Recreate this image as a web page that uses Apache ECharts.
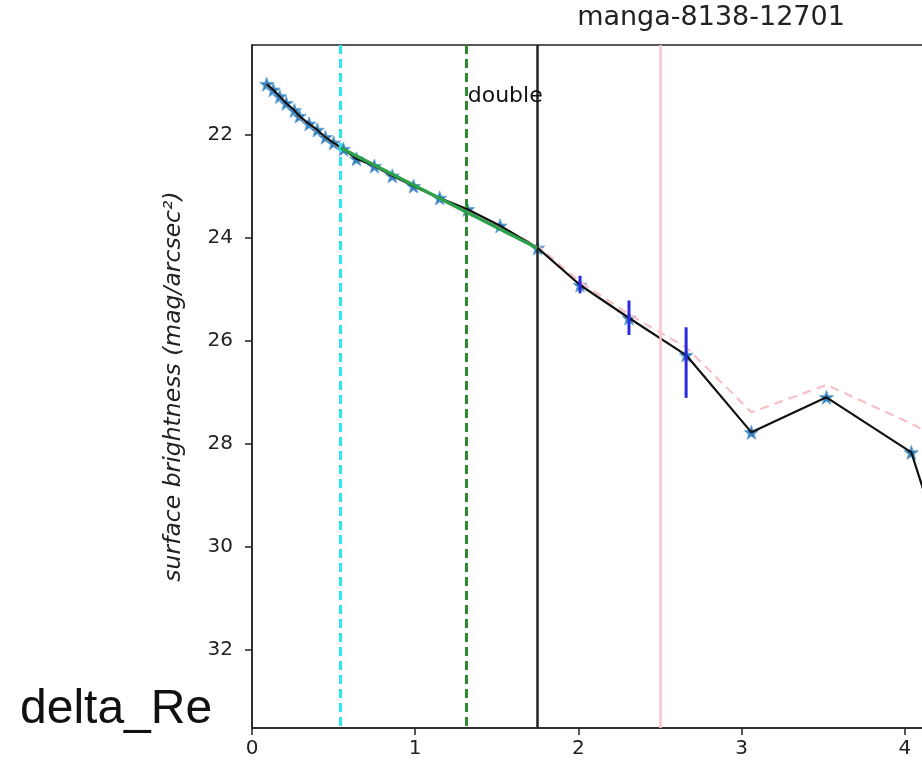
<!DOCTYPE html>
<html>
<head>
<meta charset="utf-8">
<script src="https://cdn.jsdelivr.net/npm/echarts@6/dist/echarts.min.js"></script>
<style>
html,body{margin:0;padding:0;background:#fff;}
#chart{width:922px;height:766px;}
</style>
</head>
<body>
<div id="chart"></div>
<script>
// ---- data ----
var titleText = 'manga-8138-12701';
var yAxisName = 'surface brightness (mag/arcsec\u00B2)';
var sideLabel = 'delta_Re';
var markerText = 'double';

var xTicks = [0, 1, 2, 3, 4, 5];
var yTicks = [22, 24, 26, 28, 30, 32];

var radius = [0.09, 0.13, 0.17, 0.21, 0.26, 0.29, 0.35, 0.40, 0.45, 0.50, 0.56,
              0.64, 0.75, 0.86, 0.99, 1.15, 1.32, 1.52, 1.75,
              2.01, 2.31, 2.66, 3.06, 3.52, 4.04, 4.45];
var sb     = [21.01, 21.12, 21.25, 21.38, 21.52, 21.63, 21.78, 21.90, 22.04, 22.15, 22.27,
              22.46, 22.60, 22.79, 22.99, 23.22, 23.44, 23.76, 24.19,
              24.91, 25.55, 26.27, 27.77, 27.09, 28.16, 32.20];
var errUp   = [0,0,0,0,0,0,0,0,0,0,0, 0,0,0,0,0,0,0,0, 0.18, 0.34, 0.54, 0, 0, 0, 0];
var errDown = [0,0,0,0,0,0,0,0,0,0,0, 0,0,0,0,0,0,0,0, 0.16, 0.33, 0.83, 0, 0, 0, 0];

var model  = [21.01, 21.12, 21.25, 21.38, 21.52, 21.64, 21.78, 21.91, 22.04, 22.16, 22.27,
              22.43, 22.60, 22.78, 22.99, 23.24, 23.48, 23.78, 24.15,
              24.85, 25.48, 26.12, 27.38, 26.85, 27.60, 28.30];

var fitX = [0.544, 1.747];
var fitY = [22.25, 24.19];

var vCyan = 0.544, vGreen = 1.307, vBlack = 1.747, vPink = 2.5;
var textPos = [1.322, 21.24];

var xMin = 0, xMax = 5.625, yMin = 20.25, yMax = 33.51;

// ---- build ----
function zip(a, b){ return a.map(function(v,i){ return [v, b[i]]; }); }
var errData = radius.map(function(r,i){ return [r, sb[i] - errUp[i], sb[i] + errDown[i]]; })
                    .filter(function(d,i){ return errUp[i] > 0 || errDown[i] > 0; });

var starPath = 'path://M0,-10L2.35,-3.24L9.51,-3.09L3.8,1.24L5.88,8.09L0,4L-5.88,8.09L-3.8,1.24L-9.51,-3.09L-2.35,-3.24Z';
var FONT = 'DejaVu Sans';

function vline(x, color, type, width){
  return {xAxis: x, lineStyle: {color: color, type: type, width: width, opacity: 1}};
}

var chart = echarts.init(document.getElementById('chart'), null, {renderer: 'canvas'});
chart.setOption({
  animation: false,
  backgroundColor: '#fff',
  title: {
    text: titleText, left: 711, top: 4, padding: 0, textAlign: 'center',
    textStyle: {fontFamily: FONT, fontSize: 27, fontWeight: 'normal', color: '#222'}
  },
  graphic: [{
    type: 'text', left: 20, top: 686,
    style: {text: sideLabel, font: '48px "Liberation Sans", Arial, sans-serif', fill: '#111'}
  }],
  grid: {left: 252, top: 45, right: -248, bottom: 38, show: true,
         outerBoundsMode: 'none', containLabel: false,
         borderColor: '#222', borderWidth: 1.5, backgroundColor: 'transparent'},
  xAxis: {
    type: 'value', min: xMin, max: xMax, interval: 1,
    axisLine: {show: true, onZero: false, lineStyle: {color: '#222', width: 1.5}},
    axisTick: {show: true, inside: false, length: 7, lineStyle: {color: '#222', width: 1.5},
               customValues: xTicks},
    axisLabel: {fontFamily: FONT, fontSize: 20, color: '#222', margin: 11, customValues: xTicks,
                showMaxLabel: false},
    splitLine: {show: false}
  },
  yAxis: {
    type: 'value', inverse: true, min: yMin, max: yMax,
    name: yAxisName, nameLocation: 'middle', nameGap: 67,
    nameTextStyle: {fontFamily: FONT, fontSize: 23.5, fontStyle: 'italic', color: '#222'},
    axisLine: {show: true, onZero: false, lineStyle: {color: '#222', width: 1.5}},
    axisTick: {show: true, inside: false, length: 7, lineStyle: {color: '#222', width: 1.5},
               customValues: yTicks},
    axisLabel: {fontFamily: FONT, fontSize: 20, color: '#222', margin: 19, customValues: yTicks},
    splitLine: {show: false}
  },
  series: [
    {
      type: 'scatter', name: 'data', data: zip(radius, sb), z: 2,
      symbol: starPath, symbolSize: 14,
      itemStyle: {color: '#2b7bba', borderColor: '#6aa8d8', borderWidth: 1, opacity: 0.95}
    },
    {
      type: 'line', name: 'model', data: zip(radius, model), z: 3, showSymbol: false,
      lineStyle: {color: '#f7c0c8', width: 2.2, type: [9, 6]}
    },
    {
      type: 'line', name: 'profile', data: zip(radius, sb), z: 4, showSymbol: false,
      lineStyle: {color: '#111', width: 2.2}
    },
    {
      type: 'line', name: 'fit', data: zip(fitX, fitY), z: 5, showSymbol: false,
      lineStyle: {color: '#2ca04a', width: 3.5}
    },
    {
      type: 'custom', name: 'err', data: errData, z: 6,
      renderItem: function(params, api){
        var p1 = api.coord([api.value(0), api.value(1)]);
        var p2 = api.coord([api.value(0), api.value(2)]);
        return {type: 'line', shape: {x1: p1[0], y1: p1[1], x2: p2[0], y2: p2[1]},
                style: {stroke: '#2a2ade', lineWidth: 3}};
      }
    },
    {
      type: 'scatter', name: 'vlines', data: [], z: 7,
      markLine: {
        silent: true, symbol: 'none', label: {show: false},
        data: [
          vline(vCyan, '#2ee6f0', [9, 5], 3),
          vline(vGreen, '#2e8a2e', [9, 5], 3),
          vline(vBlack, '#222', 'solid', 2.5),
          vline(vPink, '#f8c4cc', 'solid', 2.5)
        ]
      }
    },
    {
      type: 'scatter', name: 'txt', data: [textPos], z: 8, symbolSize: 0,
      itemStyle: {opacity: 1},
      label: {show: true, position: 'right', distance: 0, formatter: markerText,
              fontFamily: FONT, fontSize: 22, color: '#111', opacity: 1}
    }
  ]
});
</script>
</body>
</html>
